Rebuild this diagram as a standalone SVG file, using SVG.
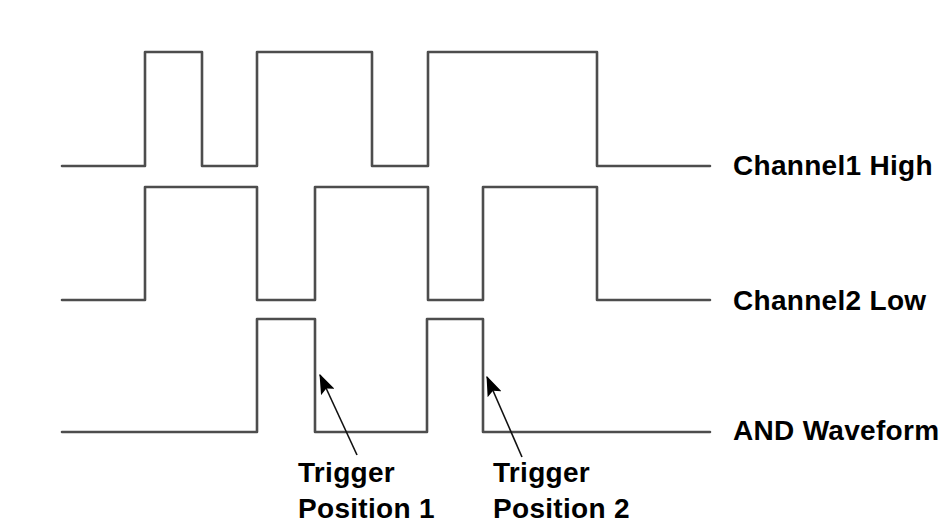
<svg xmlns="http://www.w3.org/2000/svg" width="947" height="531" viewBox="0 0 947 531">
<style>
.wave{fill:none;stroke:#4d4d4d;stroke-width:2.6;stroke-linejoin:round;stroke-linecap:round}
.lbl{font-family:"Liberation Sans",Arial,sans-serif;font-weight:bold;font-size:28px;letter-spacing:0.3px;fill:#000}
.arr{stroke:#111;stroke-width:1.6;fill:none}
</style>
<defs>
<marker id="ahb" viewBox="0 0 16 12" refX="15" refY="6" markerWidth="20" markerHeight="15" markerUnits="userSpaceOnUse" orient="auto">
<path d="M0,0 L16,6 L0,12 L3,6 z" fill="#000"/>
</marker>
</defs>
<rect width="947" height="531" fill="#fff"/>
<g id="channel1">
<polyline class="wave" points="62,166 145,166 145,52 202,52 202,166 257,166 257,52 372,52 372,166 428,166 428,52 597,52 597,166 710,166"/>
<text class="lbl" x="733" y="175">Channel1 High</text>
</g>
<g id="channel2">
<polyline class="wave" points="62,300 145,300 145,187 257,187 257,300 315,300 315,187 428,187 428,300 483,300 483,187 597,187 597,300 710,300"/>
<text class="lbl" x="733" y="310">Channel2 Low</text>
</g>
<g id="and">
<polyline class="wave" points="62,432 257,432 257,319 315,319 315,432 427,432 427,319 483,319 483,432 710,432"/>
<text class="lbl" x="733" y="440">AND Waveform</text>
</g>
<g id="trigger1">
<text class="lbl" x="298" y="482">Trigger</text>
<text class="lbl" x="298" y="518">Position 1</text>
</g>
<g id="trigger2">
<text class="lbl" x="493" y="482">Trigger</text>
<text class="lbl" x="493" y="518">Position 2</text>
</g>
<g id="connectors">
<line class="arr" x1="357" y1="455" x2="320" y2="375" marker-end="url(#ahb)"/>
<line class="arr" x1="522" y1="457" x2="487" y2="377" marker-end="url(#ahb)"/>
</g>
</svg>
